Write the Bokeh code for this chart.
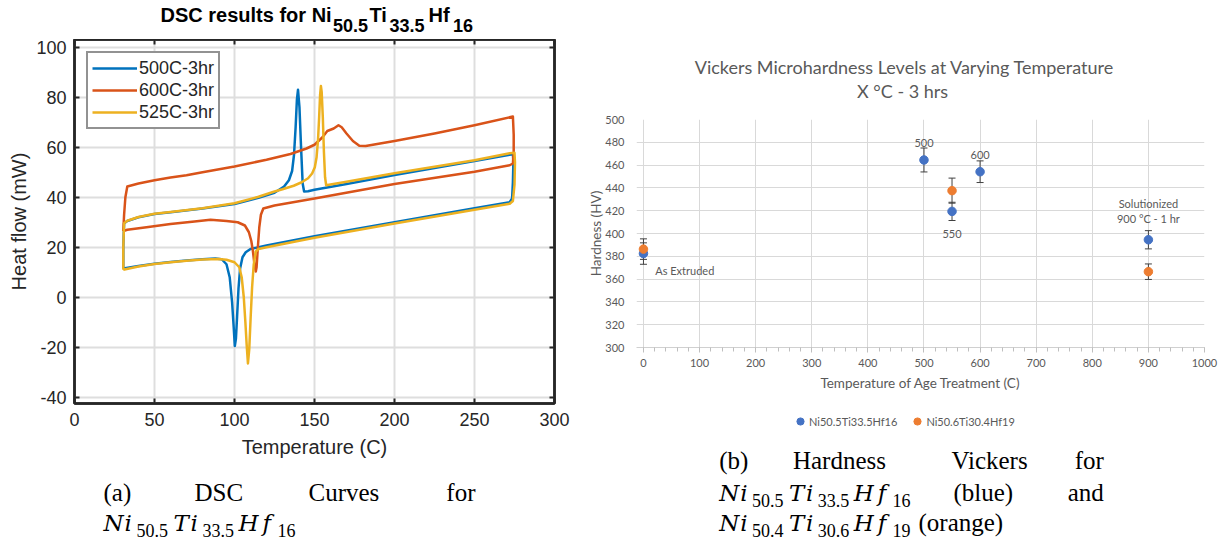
from bokeh.plotting import figure
from bokeh.layouts import row, column
from bokeh.models import (Range1d, Legend, LegendItem, SingleIntervalTicker, LinearAxis,
                          CustomJSTickFormatter, Whisker, TeeHead, ColumnDataSource)
from bokeh.core.properties import value
from bokeh.embed import file_html
from bokeh.resources import INLINE

# ---------------- (a) DSC data ----------------
dsc_labels = ["500C-3hr", "600C-3hr", "525C-3hr"]
dsc_colors = ["#0072BD", "#D95319", "#EDB120"]

t_500 = [30.5, 40, 50, 60, 70, 80, 88, 92, 95, 97, 98.5, 99.5, 100.2, 100.9, 101.6, 102.5, 103.5,
         105, 107, 110, 120, 150, 200, 250, 272, 273.5, 274, 274.3, 274, 272, 250, 200, 170, 150,
         146, 143.5, 142.6, 141.6, 140.6, 139.7, 139.0, 138.2, 137.2, 136.0, 134.0, 131, 125, 115,
         100, 80, 60, 50, 40, 33, 31, 30.5, 30.5]
h_500 = [11.5, 12.5, 13.4, 14.1, 14.7, 15.2, 15.5, 15.2, 13.2, 8.0, -2.0, -12.0, -19.5, -16.5, -8.0,
         3.5, 11.5, 16.0, 18.0, 19.3, 20.7, 24.4, 30.0, 35.6, 38.0, 39.5, 46.0, 54.0, 57.3, 57.0,
         54.5, 48.9, 45.3, 43.0, 42.4, 42.3, 45.5, 60.0, 76.0, 83.0, 79.0, 68.0, 57.0, 50.5, 46.8,
         44.3, 41.8, 39.8, 37.3, 35.5, 34.0, 33.3, 32.0, 30.5, 29.6, 20.0, 11.5]

t_600 = [30.5, 31.0, 31.8, 33, 40, 50, 60, 70, 80, 100, 120, 135, 145, 150, 155, 158, 162, 165, 167,
         170, 174, 178, 182, 200, 225, 250, 274, 274.5, 274.5, 274, 272, 250, 200, 150, 125, 118,
         116.5, 115.5, 114.6, 113.8, 113.3, 112.5, 111.5, 110.5, 109, 106.5, 102, 95, 85, 75, 60,
         45, 33, 30.5]
h_600 = [26.5, 33, 40, 44.3, 45.5, 46.8, 47.9, 48.8, 50, 52.3, 55, 57.3, 59.5, 61, 64, 66.5, 67.5,
         68.8, 68, 65.5, 62.5, 60.6, 60.5, 62.5, 65.5, 68.8, 72.3, 65, 58, 53.5, 52.8, 50.2, 45.3,
         39.5, 36.7, 35.5, 33, 28, 20, 12, 10.3, 13, 18.5, 22.5, 26, 28.7, 30, 30.5, 31, 30.3, 29.3,
         28, 27, 26.5]

t_525 = [30.5, 40, 50, 60, 70, 80, 90, 95, 100, 103, 104.5, 105.8, 106.8, 107.6, 108.4, 109.2, 110.1,
         111.0, 112.0, 113.3, 115, 120, 150, 200, 250, 272, 274, 275, 275.3, 275, 272, 250, 200, 170,
         160, 157.3, 156.6, 155.9, 155.2, 154.5, 154.0, 153.5, 152.9, 152.2, 151.3, 150.2, 148.5,
         146, 142, 137, 130, 125, 115, 100, 80, 60, 50, 40, 33, 31, 30.5, 30.5]
h_525 = [11.0, 12.3, 13.3, 14.0, 14.6, 15.1, 15.3, 15.0, 14.0, 12.0, 8.0, 0.0, -10.0, -19.0, -26.5,
         -21.0, -8.0, 4.0, 13.0, 18.3, 19.3, 20.0, 23.8, 29.5, 35.0, 37.4, 38.5, 45.0, 54.0, 57.8,
         57.6, 54.8, 49.6, 46.2, 45.1, 44.8, 48.0, 58.0, 72.0, 82.0, 84.5, 81.0, 72.0, 63.0, 56.0,
         52.0, 49.5, 47.6, 46.0, 44.6, 43.2, 42.3, 40.2, 37.6, 35.6, 34.1, 33.4, 32.1, 30.6, 29.6,
         20.0, 11.0]

# ---------------- (b) Vickers hardness data ----------------
hv_names = ["Ni50.5Ti33.5Hf16", "Ni50.6Ti30.4Hf19"]
hv_colors = ["#4472C4", "#ED7D31"]
temp_a = [0, 500, 550, 600, 900]
hv_a = [382.4, 464.5, 419.4, 454.2, 394.5]
err_a = [9.4, 10.5, 8.0, 9.5, 8.0]
temp_b = [0, 550, 900]
hv_b = [386.3, 437.6, 366.5]
err_b = [9.0, 11.0, 6.8]
point_labels = ["500", "600", "550", "Solutionized", "900 °C - 1 hr", "As Extruded"]
point_label_x = [500, 600, 550, 900, 900, 21]
point_label_y = [479.2, 469.0, 399.7, 426.0, 412.9, 367.5]
point_label_align = ["center", "center", "center", "center", "center", "left"]

SANS = "Liberation Sans"
SERIF = "Liberation Serif"
MATH = "DejaVu Serif"
XL = "Lato"
GRAY = "#595959"
AX = "#262626"

# page-pixel extents of the two plot frames (text panels share them)
L_FRAME = (74, 554)
R_FRAME = (634, 1204)


def text_fig(w, h, xr):
    return figure(width=w, height=h, x_range=Range1d(*xr), y_range=Range1d(h, 0),
                  x_axis_type=None, y_axis_type=None, toolbar_location=None,
                  min_border=0, output_backend="svg", outline_line_color=None)


def put(f, x, base, s, size, font=SERIF, style="normal", align="left", color="black"):
    # base = alphabetic baseline; drawn with a middle baseline
    f.text(x=[x], y=[base - 0.32 * size], text=[s], text_font=value(font),
           text_font_size=f"{size}px", text_font_style=style, text_align=align,
           text_baseline="middle", text_color=color)


def formula(f, x0, base, parts, size=23, sub=18, drop=6):
    for dx, s, is_sub in parts:
        if is_sub:
            put(f, x0 + dx, base + drop, s, sub, SERIF, "normal")
        else:
            put(f, x0 + dx, base, s, size, MATH, "italic")


def chem(n1, n2, n3):
    return [(0, "N", False), (21, "i", False), (33, n1, True), (70, "T", False),
            (87, "i", False), (99, n2, True), (135, "H", False), (159, "f", False),
            (174, n3, True)]


hyphen_fmt = "return tick.toString()"

# ---------------- left column ----------------
tL = text_fig(585, 39, L_FRAME)
put(tL, 160, 20.7, "DSC results for Ni", 20, SANS, "bold")
put(tL, 332.5, 30.5, "50.5", 18, SANS, "bold")
put(tL, 369, 20.7, "Ti", 20, SANS, "bold")
put(tL, 389, 30.5, "33.5", 18, SANS, "bold")
put(tL, 428, 20.7, "Hf", 20, SANS, "bold")
put(tL, 452.5, 30.5, "16", 18, SANS, "bold")

pL = figure(width=585, height=431, x_range=Range1d(0, 300), y_range=Range1d(-42.5, 103.1),
            toolbar_location=None, output_backend="svg",
            min_border_left=74, min_border_right=31, min_border_top=0, min_border_bottom=67)
pL.xaxis.ticker = SingleIntervalTicker(interval=50, num_minor_ticks=0)
pL.yaxis.ticker = SingleIntervalTicker(interval=20, num_minor_ticks=0)
pL.xaxis.formatter = CustomJSTickFormatter(code=hyphen_fmt)
pL.yaxis.formatter = CustomJSTickFormatter(code=hyphen_fmt)
pL.xaxis.axis_label = "Temperature (C)"
pL.yaxis.axis_label = "Heat flow (mW)"
for ax in pL.axis:
    ax.major_tick_in = 5
    ax.major_tick_out = 0
    ax.minor_tick_in = 0
    ax.minor_tick_out = 0
    ax.axis_line_width = 2.5
    ax.axis_line_color = AX
    ax.major_tick_line_color = AX
    ax.major_tick_line_width = 2
    ax.major_label_text_font = SANS
    ax.major_label_text_font_size = "18px"
    ax.major_label_text_color = AX
    ax.axis_label_text_font = SANS
    ax.axis_label_text_font_size = "20px"
    ax.axis_label_text_font_style = "normal"
    ax.axis_label_text_color = AX
pL.xaxis.major_label_standoff = 9
pL.xaxis.axis_label_standoff = 7
pL.yaxis.major_label_standoff = 8
pL.yaxis.axis_label_standoff = 3
pL.grid.grid_line_color = "#dedede"
pL.grid.grid_line_width = 2
pL.outline_line_color = AX
pL.outline_line_width = 2.5

for place, itv in (("above", 50), ("right", 20)):
    ax = LinearAxis(ticker=SingleIntervalTicker(interval=itv, num_minor_ticks=0),
                    formatter=CustomJSTickFormatter(code="return ''"),
                    major_tick_in=5, major_tick_out=0, minor_tick_in=0, minor_tick_out=0,
                    major_label_text_font_size="0px", major_label_standoff=0,
                    axis_line_width=2.5, axis_line_color=AX,
                    major_tick_line_width=2, major_tick_line_color=AX)
    pL.add_layout(ax, place)

rendsL = []
for t, h, c in ((t_500, h_500, dsc_colors[0]), (t_600, h_600, dsc_colors[1]),
                (t_525, h_525, dsc_colors[2])):
    rendsL.append(pL.line(t, h, line_color=c, line_width=2.5, line_join="round"))

legL = Legend(items=[LegendItem(label=lab, renderers=[r]) for lab, r in zip(dsc_labels, rendsL)],
              location="top_left", margin=12, padding=4, spacing=0, glyph_width=45,
              glyph_height=22, label_height=22, label_standoff=2,
              border_line_color=AX, border_line_width=2, background_fill_alpha=1,
              label_text_font=SANS, label_text_font_size="18px", label_text_color=AX)
pL.add_layout(legL)

cL = text_fig(585, 72, L_FRAME)
put(cL, 103, 29.5, "(a)", 25)
put(cL, 194, 29.5, "DSC", 25)
put(cL, 308, 29.5, "Curves", 25)
put(cL, 475, 29.5, "for", 25, align="right")
formula(cL, 103, 60, chem("50.5", "33.5", "16"))

# ---------------- right column ----------------
tR = text_fig(641, 105, R_FRAME)
put(tR, 903, 72, "Vickers Microhardness Levels at Varying Temperature", 18, XL, color=GRAY,
    align="center")
put(tR, 901, 96, "X °C - 3 hrs", 18, XL, color=GRAY, align="center")

# x range starts slightly below 0 so that the markers at 0 are drawn whole
pR = figure(width=641, height=300, x_range=Range1d(-12.4, 1000), y_range=Range1d(300, 500),
            toolbar_location=None, output_backend="svg",
            min_border_left=49, min_border_right=22, min_border_top=14, min_border_bottom=58)
pR.xaxis.ticker = SingleIntervalTicker(interval=100, num_minor_ticks=5)
pR.yaxis.ticker = SingleIntervalTicker(interval=20, num_minor_ticks=0)
pR.xaxis.axis_label = "Temperature of Age Treatment (C)"
pR.yaxis.axis_label = "Hardness (HV)"
for ax in pR.axis:
    ax.major_label_text_font = XL
    ax.major_label_text_font_size = "11px"
    ax.major_label_text_color = GRAY
    ax.axis_label_text_font = XL
    ax.axis_label_text_font_size = "13.5px"
    ax.axis_label_text_font_style = "normal"
    ax.axis_label_text_color = GRAY
pR.xaxis.axis_line_color = "#d0d0d0"
pR.xaxis.major_tick_out = 5
pR.xaxis.major_tick_in = 0
pR.xaxis.minor_tick_out = 4
pR.xaxis.minor_tick_in = 0
pR.xaxis.major_tick_line_color = "#bfbfbf"
pR.xaxis.minor_tick_line_color = "#bfbfbf"
pR.xaxis.major_label_standoff = 6
pR.xaxis.axis_label_standoff = 5
pR.yaxis.axis_line_color = None
pR.yaxis.major_tick_line_color = None
pR.yaxis.minor_tick_line_color = None
pR.yaxis.major_label_standoff = 6
pR.yaxis.axis_label_standoff = -2
pR.grid.grid_line_color = "#d9d9d9"
pR.grid.grid_line_width = 1
pR.outline_line_color = None

sources = []
for tx, hv, er, col in ((temp_a, hv_a, err_a, hv_colors[0]), (temp_b, hv_b, err_b, hv_colors[1])):
    src = ColumnDataSource(dict(x=tx, y=hv,
                                upper=[v + e for v, e in zip(hv, er)],
                                lower=[v - e for v, e in zip(hv, er)]))
    sources.append(src)
    w = Whisker(base="x", upper="upper", lower="lower", source=src,
                line_color="#404040", line_width=1, level="underlay",
                upper_head=TeeHead(size=7, line_color="#404040", line_width=1),
                lower_head=TeeHead(size=7, line_color="#404040", line_width=1))
    pR.add_layout(w)
    pR.scatter("x", "y", source=src, size=8.5, fill_color=col, line_color=col)

for s, x, y, a in zip(point_labels, point_label_x, point_label_y, point_label_align):
    pR.text(x=[x], y=[y], text=[s], text_font=value(XL), text_font_size="11px",
            text_color=GRAY, text_align=a, text_baseline="middle")

# bottom panel of (b): series legend + caption
cR = text_fig(641, 137, R_FRAME)
leg_rends = [cR.scatter("x", "y", source=src, size=8.5, fill_color=c, line_color=c, visible=False)
             for src, c in zip(sources, hv_colors)]
legR = Legend(items=[LegendItem(label=n, renderers=[r]) for n, r in zip(hv_names, leg_rends)],
              location=(155, 112), orientation="horizontal", margin=0, padding=0,
              spacing=11, glyph_width=18, glyph_height=18, label_height=18,
              label_standoff=0, border_line_color=None, background_fill_alpha=0,
              inactive_fill_alpha=0,
              label_text_font=XL, label_text_font_size="11px", label_text_color=GRAY)
cR.add_layout(legR)

put(cR, 717, 63, "(b)", 25)
put(cR, 791, 63, "Hardness", 25)
put(cR, 950, 63, "Vickers", 25)
put(cR, 1103, 63, "for", 25, align="right")
formula(cR, 717, 95, chem("50.5", "33.5", "16"))
put(cR, 952, 95, "(blue)", 25)
put(cR, 1103, 95, "and", 25, align="right")
formula(cR, 717, 125, chem("50.4", "30.6", "19"))
put(cR, 917, 125, "(orange)", 25)

layout = row(column(tL, pL, cL), column(tR, pR, cR))

open("out.html", "w").write(file_html(layout, INLINE))
